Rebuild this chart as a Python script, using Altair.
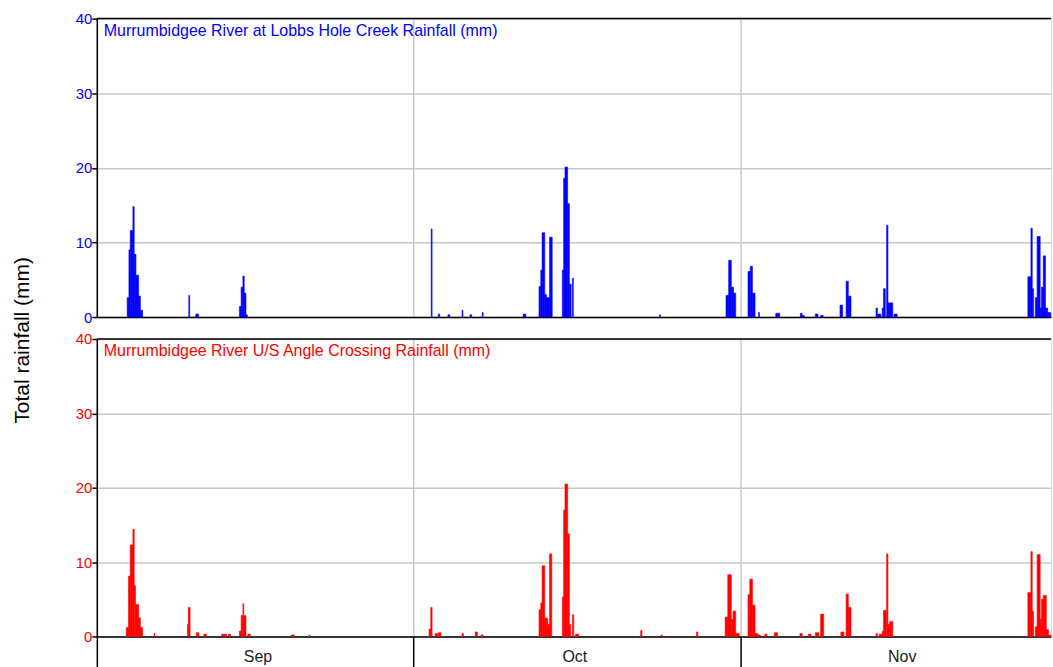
import altair as alt
import pandas as pd

YEAR = 2021

# Murrumbidgee River at Lobbs Hole Creek: start of each rain period,
# its length in hours and the total that fell in it (mm)
lobbs_start = [
    "09-03 21:00", "09-04 01:00", "09-04 04:00", "09-04 10:00", "09-04 13:00",
    "09-04 17:00", "09-04 23:00", "09-05 03:00", "09-09 17:00", "09-10 09:00",
    "09-14 12:00", "09-14 16:00", "09-14 20:00", "09-14 23:00", "09-15 03:00",
    "10-02 16:00", "10-03 08:00", "10-04 06:00", "10-05 14:00", "10-06 08:00",
    "10-07 12:00", "10-11 09:00",
    "10-12 21:00", "10-13 01:00", "10-13 04:00", "10-13 10:00", "10-13 14:00",
    "10-13 21:00",
    "10-15 02:00", "10-15 05:00", "10-15 08:00", "10-15 14:00", "10-15 18:00",
    "10-16 01:00", "10-24 07:00",
    "10-30 14:00", "10-30 20:00", "10-31 02:00", "10-31 07:00",
    "11-01 16:00", "11-01 21:00", "11-02 02:00", "11-02 16:00", "11-04 07:00",
    "11-06 15:00", "11-06 19:00", "11-08 01:00", "11-08 13:00",
    "11-10 09:00", "11-10 23:00", "11-11 04:00",
    "11-13 19:00", "11-13 23:00", "11-14 09:00", "11-14 12:00", "11-14 19:00",
    "11-14 22:00", "11-15 02:00", "11-15 12:00",
    "11-28 04:00", "11-28 11:00", "11-28 14:00", "11-28 21:00", "11-29 01:00",
    "11-29 08:00", "11-29 11:00", "11-29 15:00", "11-29 20:00", "11-30 01:00",
]
lobbs_hours = [
    4, 3, 6, 3, 4, 6, 4, 5, 2, 6,
    4, 4, 3, 4, 3,
    2, 3, 4, 2, 4, 2, 6,
    4, 3, 6, 4, 7, 6,
    3, 3, 6, 4, 4, 2, 2,
    6, 6, 5, 5,
    5, 5, 6, 2, 9, 4, 5, 6, 6,
    6, 5, 6,
    3, 7, 3, 4, 3, 4, 7, 7,
    7, 3, 3, 4, 7, 3, 4, 5, 5, 7,
]
lobbs_mm = [
    2.6, 9.0, 11.6, 14.8, 8.4, 5.6, 2.8, 0.9, 2.9, 0.4,
    1.4, 4.0, 5.5, 3.2, 0.3,
    11.8, 0.4, 0.3, 0.9, 0.3, 0.6, 0.4,
    4.1, 6.3, 11.3, 3.0, 2.6, 10.7,
    6.3, 18.6, 20.1, 15.2, 4.4, 5.2, 0.3,
    2.9, 7.6, 4.0, 3.2,
    6.1, 6.8, 3.2, 0.6, 0.5, 0.5, 0.2, 0.4, 0.2,
    1.6, 4.8, 2.8,
    1.2, 0.4, 1.2, 3.8, 12.3, 1.9, 1.9, 0.4,
    5.4, 11.9, 3.8, 2.6, 10.8, 1.2, 4.0, 8.2, 1.2, 0.6,
]

# Murrumbidgee River U/S Angle Crossing
angle_start = [
    "09-03 19:00", "09-04 00:00", "09-04 04:00", "09-04 10:00", "09-04 13:00",
    "09-04 16:00", "09-04 23:00", "09-05 03:00", "09-06 10:00",
    "09-09 14:00", "09-09 16:00", "09-10 10:00", "09-11 03:00", "09-12 20:00",
    "09-13 11:00", "09-14 12:00", "09-14 16:00", "09-14 20:00", "09-14 22:00",
    "09-15 07:00", "09-19 10:00", "09-21 02:00",
    "10-02 11:00", "10-02 15:00", "10-03 01:00", "10-03 08:00", "10-05 14:00",
    "10-06 20:00", "10-07 09:00",
    "10-12 21:00", "10-13 01:00", "10-13 04:00", "10-13 10:00", "10-13 14:00",
    "10-13 17:00", "10-13 21:00",
    "10-15 02:00", "10-15 05:00", "10-15 08:00", "10-15 14:00", "10-15 18:00",
    "10-16 01:00", "10-16 08:00", "10-22 12:00", "10-24 10:00", "10-27 19:00",
    "10-30 12:00", "10-30 18:00", "10-31 02:00", "10-31 06:00", "10-31 12:00",
    "11-01 16:00", "11-01 20:00", "11-02 02:00", "11-02 08:00", "11-02 14:00",
    "11-03 06:00", "11-04 04:00", "11-06 14:00", "11-07 09:00", "11-08 01:00",
    "11-08 13:00", "11-10 11:00", "11-10 23:00", "11-11 04:00",
    "11-13 19:00", "11-14 02:00", "11-14 09:00", "11-14 12:00", "11-14 19:00",
    "11-14 22:00", "11-15 02:00",
    "11-28 04:00", "11-28 11:00", "11-28 14:00", "11-28 21:00", "11-29 01:00",
    "11-29 08:00", "11-29 11:00", "11-29 15:00", "11-29 22:00", "11-30 03:00",
]
angle_hours = [
    5, 4, 6, 3, 3, 7, 4, 5, 2,
    2, 4, 6, 6, 11, 5, 4, 4, 2, 5, 6, 7, 2,
    4, 3, 5, 6, 3, 5, 5,
    4, 3, 6, 4, 3, 4, 5,
    3, 3, 6, 4, 3, 3, 7, 3, 3, 3,
    6, 8, 4, 6, 8,
    4, 6, 6, 6, 6, 5, 7, 5, 6, 8, 7, 7, 5, 6,
    3, 7, 3, 6, 3, 4, 7,
    7, 3, 3, 4, 7, 3, 4, 7, 5, 5,
]
angle_mm = [
    1.2, 8.1, 12.3, 14.4, 6.8, 4.3, 2.5, 1.2, 0.4,
    1.6, 3.9, 0.5, 0.3, 0.3, 0.3, 0.7, 2.8, 4.4, 2.8, 0.3, 0.2, 0.2,
    1.0, 3.9, 0.4, 0.5, 0.4, 0.6, 0.2,
    3.6, 4.5, 9.5, 2.5, 2.4, 1.6, 11.1,
    5.3, 17.0, 20.5, 13.8, 1.6, 2.9, 0.3, 0.8, 0.2, 0.6,
    2.6, 8.3, 2.3, 3.4, 0.4,
    5.6, 7.7, 4.2, 0.4, 0.2, 0.3, 0.5, 0.4, 0.3, 0.5, 3.0, 0.6, 5.7, 3.9,
    0.4, 0.3, 0.7, 3.5, 11.1, 1.6, 2.0,
    5.9, 11.4, 3.4, 1.3, 11.0, 2.3, 5.0, 5.5, 0.9, 0.2,
]

# Month boundaries drawn on the time axis, and the end of the visible period
month_starts = [(YEAR, 9), (YEAR, 10), (YEAR, 11)]
period_end = (YEAR, 11, 30, 8, 36)
y_ticks = [0, 5, 10, 15, 20, 25, 30, 35, 40]

BLUE = "#0000FF"
RED = "#FF0000"
GRID = "#C8C8C8"
FONT = "Liberation Sans"


def periods(starts, hours, mm):
    t0 = pd.to_datetime([f"{YEAR}-{s}" for s in starts])
    t1 = t0 + pd.to_timedelta(hours, unit="h")
    return pd.DataFrame({
        "start": t0.strftime("%Y-%m-%dT%H:%M:%S"),
        "end": t1.strftime("%Y-%m-%dT%H:%M:%S"),
        "mm": mm,
    })


month_values = [alt.DateTime(year=y, month=m, date=1) for y, m in month_starts]
end_value = alt.DateTime(year=period_end[0], month=period_end[1], date=period_end[2],
                         hours=period_end[3], minutes=period_end[4])
x_scale = alt.Scale(domain=[month_values[0], end_value], nice=False)
y_scale = alt.Scale(domain=[0, 40], nice=False)


def panel(df, color, label, bottom):
    x_axis = alt.Axis(
        values=month_values, format="%b", title=None,
        grid=True, gridColor=GRID, gridWidth=1.5,
        domainColor="black", domainWidth=1.5,
        labels=bottom, ticks=bottom,
        tickSize=32, tickColor="black", tickWidth=1.5,
        labelOffset=161, labelPadding=-20, labelFontSize=16,
        labelColor="#1a1a1a", labelFont=FONT, labelAlign="center",
        labelFlush=False, labelOverlap=False, labelBound=False,
    )
    y_axis = alt.Axis(
        values=y_ticks, title=None,
        labelExpr="datum.value % 10 === 0 ? datum.label : ''",
        labelColor=color, labelFontSize=15, labelFont=FONT, labelPadding=0,
        tickSize=5, tickColor="black", tickWidth=1.5,
        domainColor="black", domainWidth=1.5,
        grid=True, gridColor=GRID, gridWidth=1.5,
    )
    bars = alt.Chart(df).mark_bar(color=color, stroke=color, strokeWidth=0.6).encode(
        x=alt.X("start:T", scale=x_scale, axis=x_axis),
        x2="end:T",
        y=alt.Y("mm:Q", scale=y_scale, axis=y_axis),
        y2=alt.datum(0),
    )
    name = alt.Chart(pd.DataFrame({"t": [label]})).mark_text(
        align="left", baseline="alphabetic", fontSize=16, font=FONT, color=color
    ).encode(x=alt.value(7), y=alt.value(17), text="t:N")
    top_line = alt.Chart(pd.DataFrame({"v": [40]})).mark_rule(
        color="black", strokeWidth=1.5
    ).encode(y=alt.Y("v:Q", scale=y_scale))
    return alt.layer(bars, top_line, name).properties(
        width=956, height=298 if bottom else 299
    )


top = panel(periods(lobbs_start, lobbs_hours, lobbs_mm), BLUE,
            "Murrumbidgee River at Lobbs Hole Creek Rainfall (mm)", False)
bottom = panel(periods(angle_start, angle_hours, angle_mm), RED,
               "Murrumbidgee River U/S Angle Crossing Rainfall (mm)", True)

chart = alt.vconcat(top, bottom, spacing=22, bounds="flush").properties(
    title=alt.TitleParams(
        "Total rainfall (mm)", orient="left", anchor="middle",
        fontSize=21, fontWeight="normal", color="black", font=FONT, offset=42,
    ),
    padding={"left": 11, "top": 10, "right": 0, "bottom": 0},
).configure_view(strokeWidth=0).configure(font=FONT)

chart.save("out.html", embed_options={"renderer": "svg", "actions": False})
